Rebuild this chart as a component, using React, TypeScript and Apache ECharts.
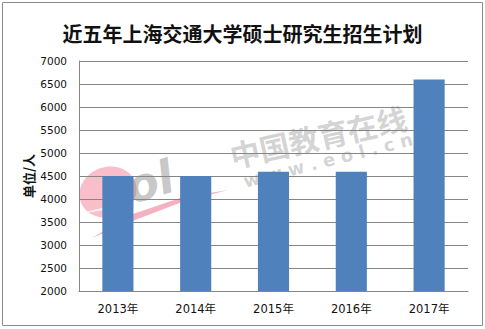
import React, { useEffect, useRef } from "react";
import * as echarts from "echarts";

const titleText = "近五年上海交通大学硕士研究生招生计划";
const categories = ["2013年", "2014年", "2015年", "2016年", "2017年"];
const enrollment = [4500, 4500, 4590, 4590, 6600];
const yAxisName = "单位/人";
const yMin = 2000;
const yMax = 7000;
const yStep = 500;

export default function App() {
  const ref = useRef<HTMLDivElement>(null);
  useEffect(() => {
    if (!ref.current) return;
    const chart = echarts.init(ref.current, undefined, { renderer: "svg" });
    const font = "'DejaVu Sans', 'Noto Sans CJK SC', sans-serif";
    chart.setOption({
      animation: false,
      backgroundColor: "#ffffff",
      title: {
        text: titleText,
        left: "center",
        top: 18,
        textStyle: {
          fontFamily: "'Noto Sans CJK SC', sans-serif",
          fontSize: 20,
          fontWeight: "bold",
          color: "#111",
        },
      },
      grid: { left: 79, right: 17, top: 61, bottom: 38 },
      xAxis: {
        type: "category",
        data: categories,
        axisLine: { lineStyle: { color: "#868686", width: 1 } },
        axisTick: { show: false },
        axisLabel: { fontFamily: font, fontSize: 11.5, color: "#111", margin: 12 },
      },
      yAxis: {
        type: "value",
        min: yMin,
        max: yMax,
        interval: yStep,
        axisLine: { show: true, lineStyle: { color: "#868686", width: 1 } },
        axisTick: { show: false },
        splitLine: { lineStyle: { color: "#868686", width: 1 } },
        axisLabel: {
          fontFamily: font,
          fontSize: 10.5,
          color: "#111",
          margin: 12,
          formatter: (v: number) => String(v),
        },
      },
      series: [
        {
          type: "bar",
          data: enrollment,
          barWidth: "40%",
          itemStyle: { color: "#4F81BD" },
          z: 2,
        },
      ],
      graphic: [
        {
          type: "rect",
          z: 0,
          silent: true,
          shape: { x: 2.5, y: 2.5, width: 480, height: 323 },
          style: { fill: "none", stroke: "#8a8a8a", lineWidth: 1 },
        },
        {
          type: "text",
          x: 28,
          y: 176,
          rotation: Math.PI / 2,
          silent: true,
          style: {
            text: yAxisName,
            fontFamily: "'Noto Sans CJK SC', sans-serif",
            fontSize: 13,
            fontWeight: "bold",
            fill: "#111",
            align: "center",
            verticalAlign: "middle",
          },
        },
        {
          type: "group",
          z: 100,
          silent: true,
          children: [
            {
              type: "ellipse",
              x: 108,
              y: 192,
              rotation: 0.35,
              shape: { cx: 0, cy: 0, rx: 29, ry: 25 },
              style: { fill: "rgba(240,110,135,0.45)" },
            },
            {
              type: "polygon",
              shape: {
                points: [
                  [92, 238],
                  [130, 215],
                  [180, 198],
                  [228, 190],
                  [182, 202],
                  [135, 220],
                ],
              },
              style: { fill: "rgba(235,100,130,0.5)" },
            },
            {
              type: "polygon",
              shape: {
                points: [
                  [72, 215],
                  [110, 206],
                  [150, 200],
                  [112, 209],
                ],
              },
              style: { fill: "rgba(255,255,255,0.7)" },
            },
            {
              type: "text",
              x: 150,
              y: 182,
              rotation: 0.3,
              style: {
                text: "ol",
                fontFamily: "'DejaVu Sans', sans-serif",
                fontSize: 46,
                fontWeight: "bold",
                fontStyle: "italic",
                fill: "rgba(130,130,130,0.45)",
                align: "center",
                verticalAlign: "middle",
              },
            },
            {
              type: "text",
              x: 318,
              y: 136,
              rotation: 0.22,
              style: {
                text: "中国教育在线",
                fontFamily: "'Noto Sans CJK SC', sans-serif",
                fontSize: 30,
                fontWeight: "bold",
                fill: "rgba(130,130,130,0.35)",
                align: "center",
                verticalAlign: "middle",
              },
            },
            {
              type: "text",
              x: 328,
              y: 160,
              rotation: 0.25,
              style: {
                text: "w w w . e o l . c n",
                fontFamily: "'DejaVu Sans', sans-serif",
                fontSize: 18,
                fontWeight: "bold",
                fill: "rgba(130,130,130,0.35)",
                align: "center",
                verticalAlign: "middle",
              },
            },
          ],
        },
      ],
    });
    return () => chart.dispose();
  }, []);
  return (
    <div
      ref={ref}
      style={{ position: "fixed", left: 0, top: 0, width: 485, height: 329 }}
    />
  );
}
